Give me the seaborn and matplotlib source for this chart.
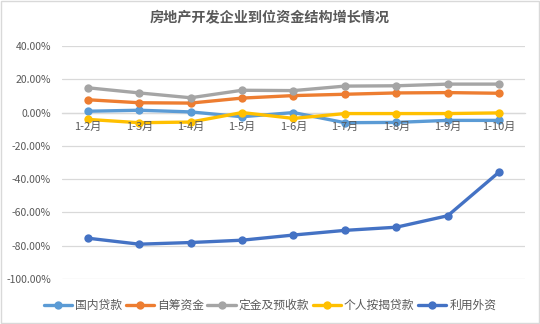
import matplotlib
matplotlib.use("Agg")
import matplotlib.pyplot as plt
import seaborn as sns
import pandas as pd
from matplotlib.ticker import FuncFormatter
from matplotlib.patches import Rectangle

categories = ["1-2月", "1-3月", "1-4月", "1-5月", "1-6月", "1-7月", "1-8月", "1-9月", "1-10月"]
domestic_loans = [0.8, 1.4, 0.4, -2.5, 0.0, -6.1, -5.9, -4.7, -4.7]
self_raised = [7.7, 5.9, 5.7, 8.7, 10.2, 11.0, 11.8, 12.0, 11.6]
deposits = [14.9, 11.8, 8.9, 13.4, 13.2, 15.9, 16.1, 17.1, 17.1]
mortgages = [-4.1, -6.1, -5.7, 0.0, -3.5, -0.6, -0.6, -0.6, -0.2]
foreign = [-75.5, -79.1, -78.1, -76.7, -73.6, -70.8, -68.9, -62.0, -35.7]
series_names = ["国内贷款", "自筹资金", "定金及预收款", "个人按揭贷款", "利用外资"]
colors = ["#5B9BD5", "#ED7D31", "#A5A5A5", "#FFC000", "#4472C4"]
title = "房地产开发企业到位资金结构增长情况"

sns.set_theme(style="white")
plt.rcParams["font.family"] = ["Noto Sans CJK SC", "DejaVu Sans"]

rows = []
for name, vals in zip(series_names, [domestic_loans, self_raised, deposits, mortgages, foreign]):
    for i, (c, v) in enumerate(zip(categories, vals)):
        rows.append({"idx": i, "month": c, "series": name, "value": v / 100.0})
df = pd.DataFrame(rows)

fig = plt.figure(figsize=(5.4, 3.24), dpi=100)
ax = fig.add_axes([0.115, 0.139, 0.857, 0.719])

sns.lineplot(data=df, x="idx", y="value", hue="series", hue_order=series_names,
             palette=colors, marker="o", markersize=6, markeredgewidth=0,
             linewidth=2.4, ax=ax, legend=True, zorder=3)

ax.set_xlim(-0.5, 8.5)
ax.set_ylim(-1.0, 0.4)
ax.set_yticks([0.4, 0.2, 0.0, -0.2, -0.4, -0.6, -0.8, -1.0])
ax.yaxis.set_major_formatter(FuncFormatter(lambda v, p: f"{v*100:.2f}%"))
ax.set_xticks(range(len(categories)))
ax.set_xticklabels(categories)
ax.grid(axis="y", color="#D9D9D9", linewidth=0.9)
ax.grid(axis="x", visible=False)
for s in ["top", "right", "left"]:
    ax.spines[s].set_visible(False)
ax.spines["bottom"].set_position(("data", 0))
ax.spines["bottom"].set_color("#D9D9D9")
ax.spines["bottom"].set_linewidth(0.9)
ax.spines["bottom"].set_zorder(1)
ax.tick_params(axis="both", length=0, labelsize=7.5, labelcolor="#595959")
ax.tick_params(axis="x", pad=7, labelsize=8)
ax.tick_params(axis="y", pad=8)
ax.xaxis.set_zorder(5)
ax.yaxis.set_zorder(1)
ax.set_xlabel("")
ax.set_ylabel("")

handles, labels = ax.get_legend_handles_labels()
ax.get_legend().remove()
fig.legend(handles, labels, loc="center", bbox_to_anchor=(0.5, 0.058), ncol=5,
           frameon=False, fontsize=8.5, handlelength=2.4, columnspacing=0.3,
           handletextpad=0.25, labelcolor="#595959")

fig.text(0.5, 0.944, title, ha="center", va="center", fontsize=10.2,
         fontweight="bold", color="#595959")

fig.patches.append(Rectangle((0.002, 0.003), 0.996, 0.994, transform=fig.transFigure,
                             fill=False, edgecolor="#D9D9D9", linewidth=1))

fig.savefig("out.png", dpi=100)
